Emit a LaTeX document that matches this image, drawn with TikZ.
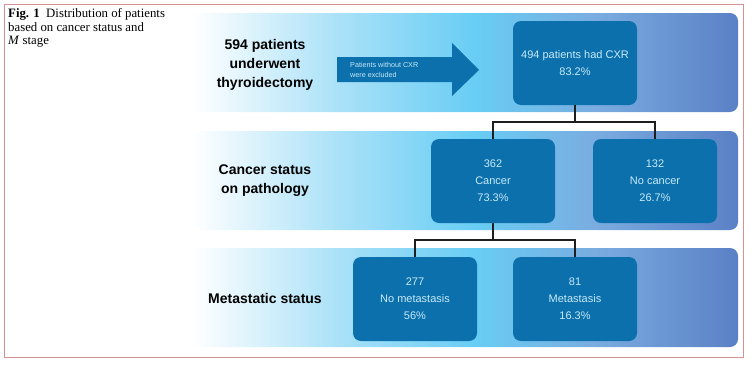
\documentclass[tikz,border=0pt]{standalone}
\usepackage{fontspec}
\setmainfont{Liberation Serif}
\setsansfont{Liberation Sans}

\definecolor{boxblue}{RGB}{11,112,171}
\definecolor{boxtext}{RGB}{200,234,250}
\definecolor{framered}{RGB}{214,146,146}
\definecolor{linkgray}{RGB}{30,30,30}
\definecolor{bandcyanA}{RGB}{172,226,248}
\definecolor{bandcyan}{RGB}{104,205,244}
\definecolor{bandmid}{RGB}{122,172,224}
\definecolor{bandblue}{RGB}{90,128,197}
% path box is mapped onto 25bp..75bp of the shading
\pgfdeclarehorizontalshading{bandfade}{100bp}{color(0bp)=(white); color(25bp)=(white); color(38bp)=(bandcyanA); color(51bp)=(bandcyan); color(62bp)=(bandmid); color(75bp)=(bandblue); color(100bp)=(bandblue)}

\tikzset{
  stagebox/.style={fill=boxblue, rounded corners=8, minimum width=124, minimum height=84,
    text=boxtext, align=center, font=\sffamily\fontsize{11}{17}\selectfont},
  rowlabel/.style={font=\sffamily\bfseries\fontsize{14}{19}\selectfont, align=center},
  link/.style={draw=linkgray, line width=1.8}
}

\begin{document}
\begin{tikzpicture}[x=1pt,y=-1pt]
\useasboundingbox (0,0) rectangle (755,370);
\draw[framered, line width=1] (4.5,4.5) rectangle (743,357);
\node[anchor=north west, align=left, font=\fontsize{12.8}{13.8}\selectfont, inner sep=0]
  (caption) at (8,8) {\textbf{Fig. 1}\enspace Distribution of patients\\based on cancer status and\\\textit{M} stage};
% stage bands
\foreach \y in {13,131,248}
  \shade[shading=bandfade, rounded corners=8] (192,\y) rectangle (738,\y+99);
\foreach \y/\nm/\texn in {65/rowa/{594 patients\\underwent\\thyroidectomy},
    181/rowb/{Cancer status\\on pathology}, 298/rowc/Metastatic status}
  \path (265,\y) node[rowlabel](\nm){\texn};
% exclusion arrow
\fill[boxblue] (337,57) -- (452,57) -- (452,43) -- (479,70) -- (452,96)
  -- (452,82) -- (337,82) -- cycle;
\node[anchor=west, align=left, text=boxtext, inner sep=0,
  font=\sffamily\fontsize{7.2}{10.5}\selectfont] (excl) at (350,70)
  {Patients without CXR\\were excluded};
% boxes
\foreach \x/\y/\nm/\texn in {575/63/cxr/{494 patients had CXR\\83.2\%},
    493/181/can/{362\\Cancer\\73.3\%}, 655/181/nocan/{132\\No cancer\\26.7\%},
    415/299/nomet/{277\\No metastasis\\56\%}, 575/299/met/{81\\Metastasis\\16.3\%}}
  \path (\x,\y) node[stagebox](\nm){\texn};
\coordinate (ja) at (575,122);
\coordinate (jb) at (493,240);
\draw[link] (cxr.south) -- (ja) -| (can.north);
\draw[link] (ja) -| (nocan.north);
\draw[link] (can.south) -- (jb) -| (nomet.north);
\draw[link] (jb) -| (met.north);
\end{tikzpicture}
\end{document}
